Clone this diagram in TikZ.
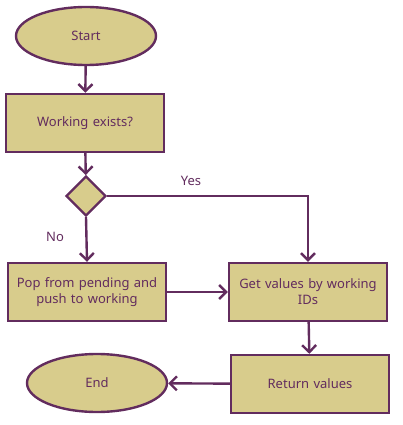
\documentclass[tikz,border=0pt]{standalone}
\usepackage{fontspec}
\setmainfont{Noto Sans}
\usetikzlibrary{shapes.geometric,arrows.meta}
\definecolor{fillk}{RGB}{216,204,140}
\definecolor{strokep}{RGB}{98,44,94}
\tikzset{
  base/.style={draw=strokep, fill=fillk, line width=2.4pt, text=strokep, font=\fontsize{13}{16}\selectfont, align=center, inner sep=0pt},
  term/.style={base, ellipse, minimum width=140pt, minimum height=58pt},
  proc/.style={base, rectangle, minimum width=158pt, minimum height=58pt, text width=150pt},
  dec/.style={base, diamond, minimum width=40pt, minimum height=40pt},
  conn/.style={draw=strokep, line width=2.4pt, -{Straight Barb[length=7pt,width=14pt,line width=2.4pt]}},
  lbl/.style={text=strokep, font=\fontsize{13}{16}\selectfont},
}
\begin{document}
\begin{tikzpicture}[x=1pt,y=-1pt]
\useasboundingbox (0,0) rectangle (403,425);
\node[term] (start) at (86,36) {Start};
\node[proc] (exists) at (85,123) {Working exists?};
\node[dec] (d) at (86,196) {};
\node[proc] (pop) at (87,292) {Pop from pending and\\push to working};
\node[proc] (get) at (308,292) {Get values by working\\IDs};
\node[proc] (ret) at (310,384) {Return values};
\node[term] (end) at (97,383) {End};
\coordinate (yc) at (get.north |- d.east);
\draw[conn] (start) -- (exists);
\draw[conn] (exists) -- (d);
\draw[conn] (d.east) -- (yc) -- (get.north);
\draw[conn] (d.south) -- (pop.north);
\draw[conn] (pop) -- (get);
\draw[conn] (get) -- (ret);
\draw[conn] (ret) -- (end);
\node[lbl] (yes) at (191,181) {Yes};
\node[lbl] (no) at (55,237) {No};
\end{tikzpicture}
\end{document}
